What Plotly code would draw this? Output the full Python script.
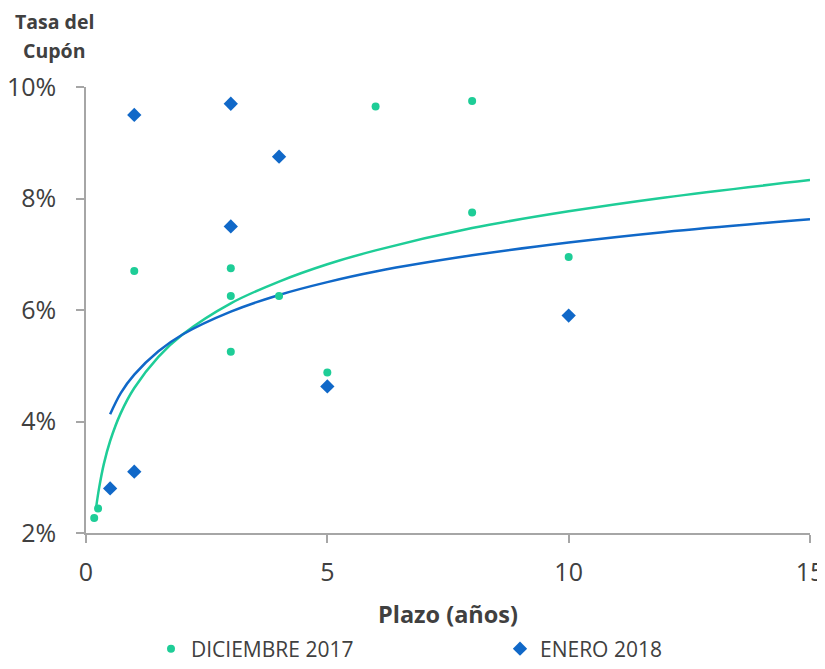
import plotly.graph_objects as go

# Scatter data (x = plazo en años, y = tasa del cupón en %)
dic_x = [0.17, 0.25, 1, 3, 3, 3, 4, 5, 6, 8, 8, 10]
dic_y = [2.27, 2.44, 6.70, 6.75, 6.25, 5.25, 6.25, 4.88, 9.65, 9.75, 7.75, 6.95]

ene_x = [0.5, 1, 1, 3, 3, 4, 5, 10]
ene_y = [2.80, 3.10, 9.50, 9.70, 7.50, 8.75, 4.63, 5.90]

# Trend lines
dic_trend_x = [0.21, 0.27, 0.37, 0.5, 0.72, 1, 1.5, 2, 3, 4, 5, 6, 8, 10, 12, 15]
dic_trend_y = [2.46, 2.80, 3.24, 3.65, 4.15, 4.60, 5.16, 5.56, 6.12, 6.51, 6.82, 7.07, 7.47, 7.77, 8.02, 8.33]

ene_trend_x = [0.5, 0.72, 1, 1.5, 2, 3, 4, 5, 6, 8, 10, 12, 15]
ene_trend_y = [4.13, 4.51, 4.84, 5.26, 5.56, 5.97, 6.27, 6.50, 6.69, 6.98, 7.21, 7.40, 7.63]

x_ticks = [0, 5, 10, 15]
y_ticks = [2, 4, 6, 8, 10]
y_tick_labels = ["2%", "4%", "6%", "8%", "10%"]

GREEN = "#1ECD97"
BLUE = "#1068C8"
TXT = "#404040"
AX = "#A6A6A6"

W, H = 817, 661          # page adds an 8px body offset
L, R, T, B = 78, 15, 79, 136
PW, PH = W - L - R, H - T - B

def px_x(p):
    return (p - L) / PW

def px_y(p):
    return (T + PH - p) / PH

fig = go.Figure()
fig.add_trace(go.Scatter(x=dic_trend_x, y=dic_trend_y, mode="lines",
                         line=dict(color=GREEN, width=2.5, shape="spline"),
                         showlegend=False, hoverinfo="skip"))
fig.add_trace(go.Scatter(x=ene_trend_x, y=ene_trend_y, mode="lines",
                         line=dict(color=BLUE, width=2.5, shape="spline"),
                         showlegend=False, hoverinfo="skip"))
fig.add_trace(go.Scatter(x=dic_x, y=dic_y, mode="markers", name="DICIEMBRE 2017",
                         marker=dict(color=GREEN, size=8, symbol="circle"), legend="legend"))
fig.add_trace(go.Scatter(x=ene_x, y=ene_y, mode="markers", name="ENERO 2018",
                         marker=dict(color=BLUE, size=11, symbol="diamond"), legend="legend2"))

leg_common = dict(orientation="h", yanchor="middle", y=px_y(641), xanchor="left",
                  font=dict(size=21, color=TXT), itemwidth=30, bgcolor="rgba(0,0,0,0)")

fig.update_layout(
    width=W, height=H,
    margin=dict(l=L, r=R, t=T, b=B, autoexpand=False),
    paper_bgcolor="white", plot_bgcolor="white",
    font=dict(family="Open Sans", color=TXT),
    xaxis=dict(range=[0, 15], tickmode="array", tickvals=x_ticks, showgrid=False, zeroline=False,
               showline=True, linecolor=AX, linewidth=1.5,
               ticks="outside", ticklen=8, tickcolor=AX, tickwidth=1.5,
               ticklabelstandoff=8, automargin=False,
               tickfont=dict(size=25, color=TXT),
               title=dict(text="<b>Plazo (años)</b>", font=dict(size=23.5, color=TXT), standoff=20)),
    yaxis=dict(range=[2, 10], tickmode="array", tickvals=y_ticks, ticktext=y_tick_labels,
               showgrid=False, zeroline=False,
               showline=True, linecolor=AX, linewidth=1.5,
               ticks="outside", ticklen=8, tickcolor=AX, tickwidth=1.5,
               ticklabelstandoff=15, automargin=False,
               tickfont=dict(size=25, color=TXT)),
    legend=dict(x=px_x(143), **leg_common),
    legend2=dict(x=px_x(492), **leg_common),
    annotations=[
        dict(text="<b>Tasa del</b>", xref="paper", yref="paper",
             x=px_x(46), y=px_y(14), xanchor="center", yanchor="middle",
             showarrow=False, font=dict(size=19.5, color=TXT)),
        dict(text="<b>Cupón</b>", xref="paper", yref="paper",
             x=px_x(46), y=px_y(43), xanchor="center", yanchor="middle",
             showarrow=False, font=dict(size=19.5, color=TXT)),
    ],
)

fig.write_html("out.html")
